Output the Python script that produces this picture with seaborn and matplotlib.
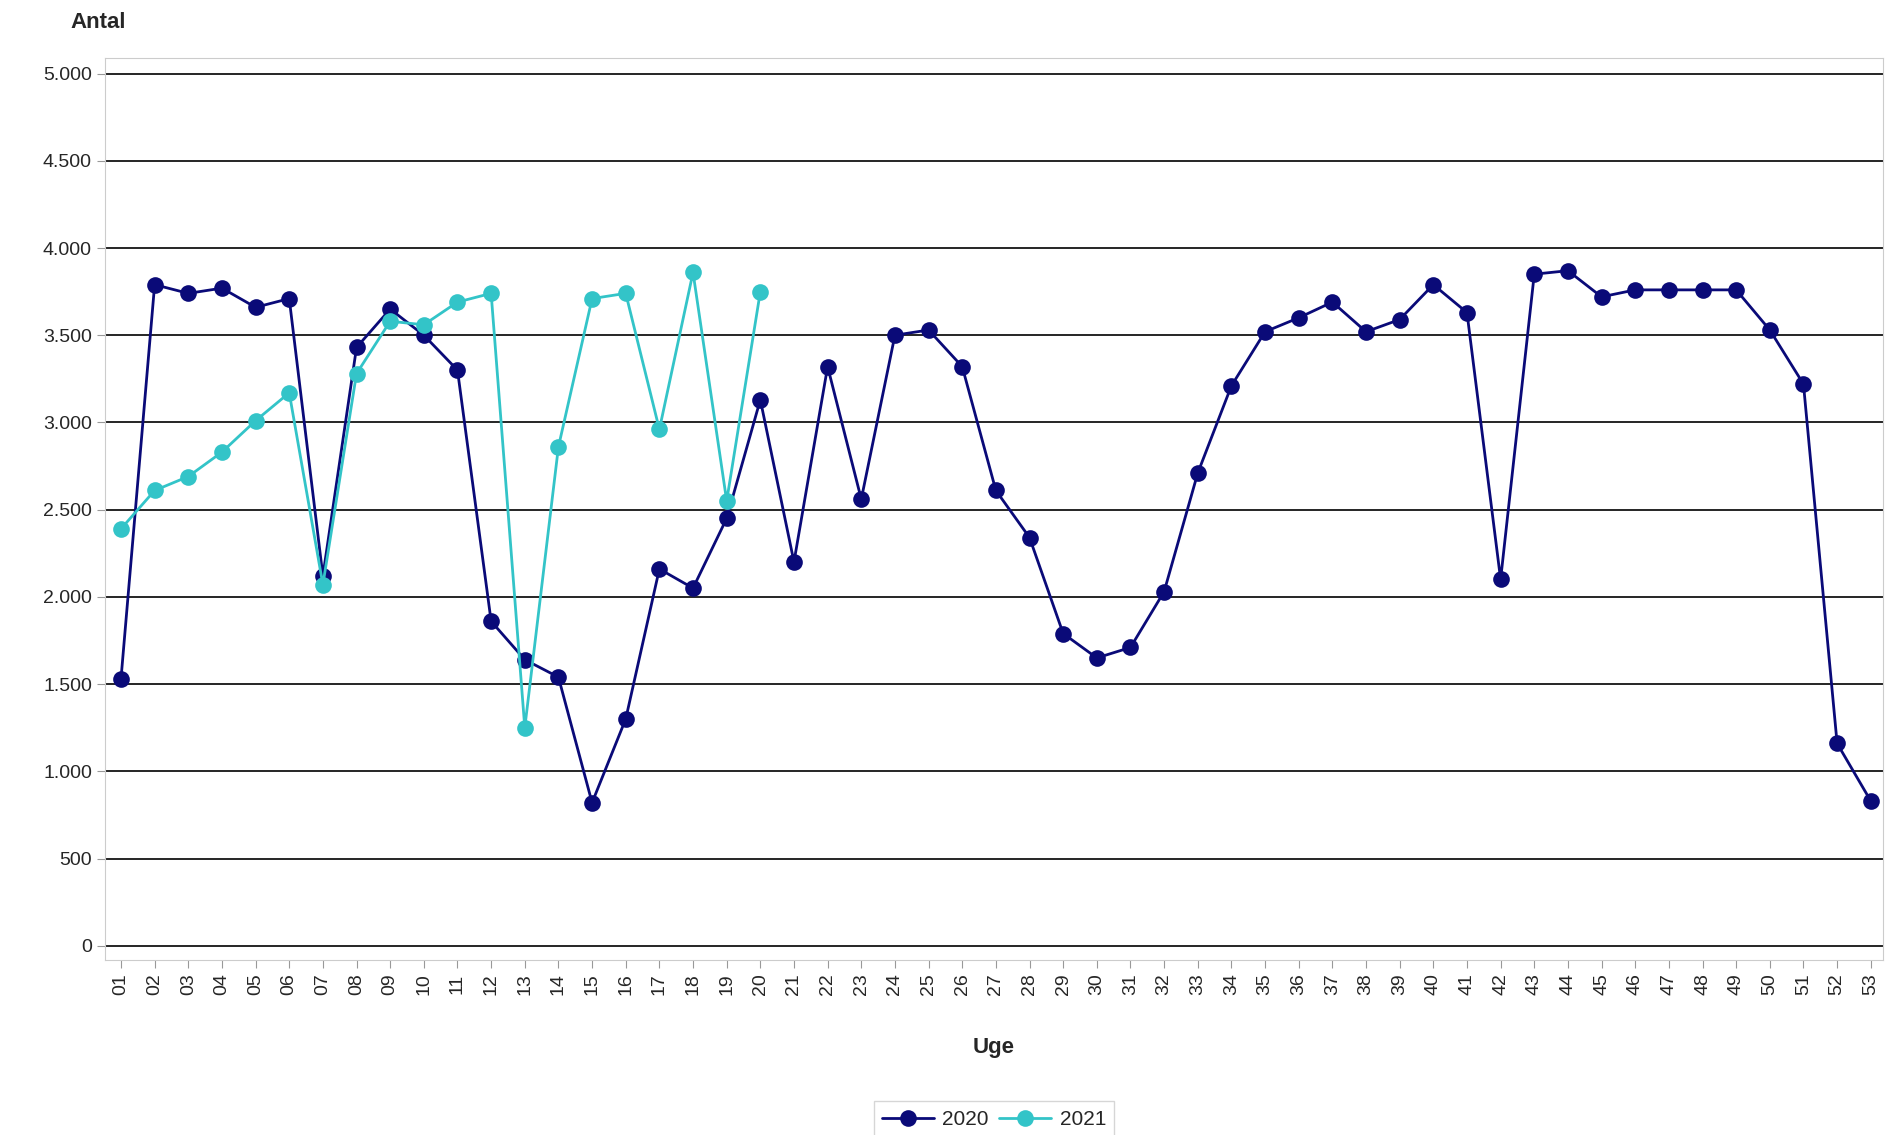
import pandas as pd
import seaborn as sns
import matplotlib.pyplot as plt
from matplotlib.ticker import FuncFormatter

weeks_2020 = list(range(1, 54))
values_2020 = [1530, 3790, 3740, 3770, 3660, 3710, 2120, 3430, 3650, 3500,
               3300, 1860, 1640, 1540, 820, 1300, 2160, 2050, 2450, 3130,
               2200, 3320, 2560, 3500, 3530, 3320, 2610, 2340, 1790, 1650,
               1710, 2030, 2710, 3210, 3520, 3600, 3690, 3520, 3590, 3790,
               3630, 2100, 3850, 3870, 3720, 3760, 3760, 3760, 3760, 3530,
               3220, 1160, 830]
weeks_2021 = list(range(1, 21))
values_2021 = [2390, 2610, 2690, 2830, 3010, 3170, 2070, 3280, 3580, 3560,
               3690, 3740, 1250, 2860, 3710, 3740, 2960, 3860, 2550, 3750]
week_labels = ["%02d" % w for w in weeks_2020]

df = pd.concat([
    pd.DataFrame({"uge": weeks_2020, "antal": values_2020, "aar": "2020"}),
    pd.DataFrame({"uge": weeks_2021, "antal": values_2021, "aar": "2021"}),
])

sns.set_style("white")
plt.rcParams['font.family'] = ['Liberation Sans', 'DejaVu Sans']
fig, ax = plt.subplots(figsize=(18.95, 11.35), dpi=100)
fig.subplots_adjust(left=0.0555, right=0.9936, top=0.949, bottom=0.154)

sns.lineplot(data=df, x="uge", y="antal", hue="aar",
             palette={"2020": "#0a0a78", "2021": "#33c4c8"},
             marker="o", markersize=12, markeredgewidth=0, linewidth=2, ax=ax)

ax.set_xlim(0.53, 53.36)
ax.set_ylim(-83, 5090)
ax.set_yticks(range(0, 5001, 500))
ax.yaxis.set_major_formatter(FuncFormatter(lambda v, p: f"{int(v):,}".replace(",", ".")))
ax.set_xticks(weeks_2020)
ax.set_xticklabels(week_labels, rotation=90)
ax.tick_params(axis="both", labelsize=14, length=6, color="#999999")
ax.tick_params(axis="x", bottom=True)
ax.tick_params(axis="y", left=True)
for v in range(0, 5001, 500):
    ax.axhline(v, color="black", linewidth=1.2, zorder=0)
for s in ax.spines.values():
    s.set_color("#cccccc")

ax.set_xlabel("Uge", fontsize=16, fontweight="bold", labelpad=30)
ax.set_ylabel("")
fig.text(0.037, 0.975, "Antal", fontsize=16, fontweight="bold")

ax.legend(title=None, loc="upper center", bbox_to_anchor=(0.5, -0.145), ncol=2,
          fontsize=15, frameon=True, fancybox=False, edgecolor="#cccccc",
          handlelength=2.5, columnspacing=0.5, handletextpad=0.4)

plt.savefig("out.png", dpi=100)
